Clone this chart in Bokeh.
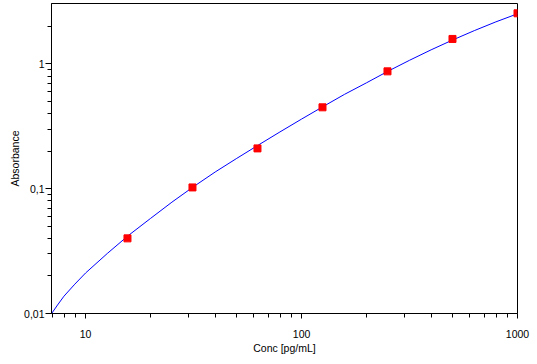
from bokeh.plotting import figure
from bokeh.models import FixedTicker, Range1d
from bokeh.embed import file_html
from bokeh.resources import INLINE

# Standards (concentration in pg/mL, absorbance)
std_conc = [15.625, 31.25, 62.5, 125, 250, 500, 1000]
std_abs = [0.0400, 0.1024, 0.2104, 0.449, 0.872, 1.586, 2.545]

# Fitted curve
curve_conc = [6.96, 7.41, 7.94, 8.91, 10, 12.6, 15.8, 20, 25.1, 31.6, 39.8, 50.1,
              63.1, 79.4, 100, 126, 158, 200, 251, 316, 398, 501, 631, 794, 1000]
curve_abs = [0.0100, 0.01169, 0.01377, 0.01718, 0.02113, 0.03027, 0.04227, 0.05788,
             0.07805, 0.1038, 0.1361, 0.1750, 0.2239, 0.2851, 0.3614, 0.4560,
             0.5702, 0.7063, 0.8730, 1.069, 1.297, 1.556, 1.849, 2.173, 2.523]

x_major = [10, 100, 1000]
x_minor = [7, 8, 9, 20, 30, 40, 50, 60, 70, 80, 90, 200, 300, 400, 500, 600, 700, 800, 900]
y_major = [0.01, 0.1, 1]
y_minor = [0.02, 0.03, 0.04, 0.05, 0.06, 0.07, 0.08, 0.09,
           0.2, 0.3, 0.4, 0.5, 0.6, 0.7, 0.8, 0.9, 2]
x_labels = {10: "10", 100: "100", 1000: "1000"}
y_labels = {0.01: "0,01", 0.1: "0,1", 1: "1"}

FONT = "Liberation Sans"

p = figure(width=535, height=362, x_axis_type="log", y_axis_type="log",
           x_range=Range1d(6.95, 1000), y_range=Range1d(0.01, 3.05),
           output_backend="svg", toolbar_location=None, tools="",
           min_border_left=51, min_border_right=18, min_border_top=3, min_border_bottom=49)

p.background_fill_color = "white"
p.border_fill_color = "white"
p.outline_line_color = "black"
p.outline_line_width = 1
p.outline_line_alpha = 1
p.xgrid.visible = False
p.ygrid.visible = False

p.line(curve_conc, curve_abs, line_color="#0000FF", line_width=1)
p.scatter(std_conc, std_abs, marker="square", size=7, fill_color="#FF0000",
          line_color="#FF0000")

p.xaxis.ticker = FixedTicker(ticks=x_major, minor_ticks=x_minor)
p.yaxis.ticker = FixedTicker(ticks=y_major, minor_ticks=y_minor)
p.xaxis.major_label_overrides = x_labels
p.yaxis.major_label_overrides = y_labels

p.xaxis.axis_label = "Conc [pg/mL]"
p.yaxis.axis_label = "Absorbance"

for ax in (p.xaxis, p.yaxis):
    ax.axis_line_color = "black"
    ax.major_tick_line_color = "black"
    ax.minor_tick_line_color = "black"
    ax.major_tick_in = 0
    ax.minor_tick_in = 0
    ax.major_tick_out = 6
    ax.minor_tick_out = 4
    ax.major_label_text_font = FONT
    ax.major_label_text_font_size = "10.5px"
    ax.major_label_text_color = "black"
    ax.axis_label_text_font = FONT
    ax.axis_label_text_font_size = "10.5px"
    ax.axis_label_text_font_style = "normal"
    ax.axis_label_text_color = "black"

p.xaxis.major_tick_out = 5
p.xaxis.major_label_standoff = 11
p.xaxis.axis_label_standoff = 1
p.yaxis.major_label_standoff = 1
p.yaxis.axis_label_standoff = 0

open("out.html", "w").write(file_html(p, INLINE))
